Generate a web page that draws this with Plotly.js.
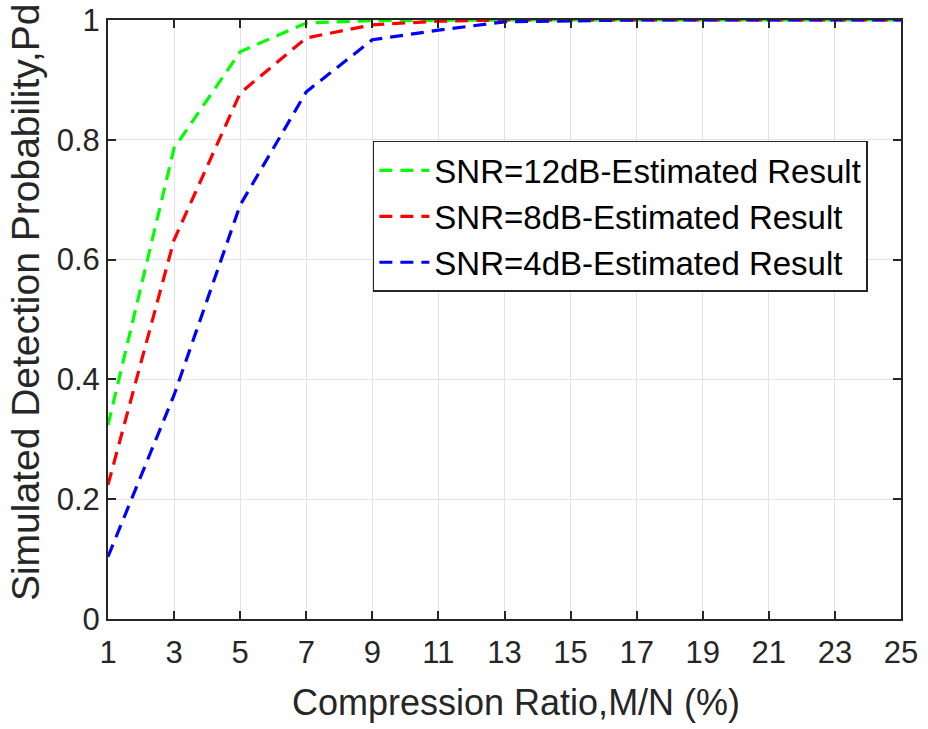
<!DOCTYPE html>
<html>
<head>
<meta charset="utf-8">
<script src="https://cdn.plot.ly/plotly-3.0.1.min.js"></script>
<style>html,body{margin:0;padding:0;background:#fff;}#chart{width:928px;height:729px;}</style>
</head>
<body>
<div id="chart"></div>
<script>
const ratio = [1, 3, 5, 7, 9, 11, 13, 15, 17, 19, 21, 23, 25];
const pd12 = [0.324, 0.786, 0.947, 0.995, 0.999, 1, 1, 1, 1, 1, 1, 1, 1];
const pd8  = [0.224, 0.633, 0.878, 0.970, 0.992, 0.998, 1, 1, 1, 1, 1, 1, 1];
const pd4  = [0.104, 0.374, 0.691, 0.880, 0.967, 0.983, 0.997, 0.999, 1, 1, 1, 1, 1];
const names = ['SNR=12dB-Estimated Result', 'SNR=8dB-Estimated Result', 'SNR=4dB-Estimated Result'];
const colors = ['#00ff00', '#ff0000', '#0000ff'];
const xticks = [1, 3, 5, 7, 9, 11, 13, 15, 17, 19, 21, 23, 25];
const yticks = [0, 0.2, 0.4, 0.6, 0.8, 1];
const yticklabels = ['0', '0.2', '0.4', '0.6', '0.8', '1'];
const xTitle = 'Compression Ratio,M/N (%)';
const yTitle = 'Simulated Detection Probability,Pd';

const FONT = 'Liberation Sans, Arial, sans-serif';
const series = [pd12, pd8, pd4];
const traces = series.map((ys, i) => ({
  x: ratio, y: ys, type: 'scatter', mode: 'lines', name: names[i],
  line: {color: colors[i], width: 3.2, dash: '13px,8px'}
}));

const axisCommon = {
  showline: true, linecolor: '#262626', linewidth: 2, mirror: 'ticks',
  ticks: 'inside', ticklen: 8, tickwidth: 2, tickcolor: '#262626',
  showgrid: true, gridcolor: '#e3e3e3', gridwidth: 1, zeroline: false,
  tickfont: {family: FONT, size: 31, color: '#262626'}
};

const layout = {
  width: 928, height: 729,
  margin: {l: 108, r: 27, t: 20, b: 110},
  paper_bgcolor: '#ffffff', plot_bgcolor: '#ffffff',
  showlegend: true,
  xaxis: Object.assign({}, axisCommon, {
    range: [1, 25], tickvals: xticks, ticktext: xticks.map(String),
    ticklabelstandoff: 5
  }),
  yaxis: Object.assign({}, axisCommon, {
    range: [0, 1], tickvals: yticks, ticktext: yticklabels
  }),
  annotations: [
    {text: xTitle, xref: 'paper', yref: 'paper', x: 0.5145, y: -0.140,
     xanchor: 'center', yanchor: 'middle', showarrow: false,
     font: {family: FONT, size: 36, color: '#262626'}},
    {text: yTitle, xref: 'paper', yref: 'paper', x: -0.1047, y: 0.529,
     xanchor: 'center', yanchor: 'middle', showarrow: false, textangle: -90,
     font: {family: FONT, size: 39, color: '#262626'}}
  ],
  legend: {
    x: 0.334, y: 0.798, xanchor: 'left', yanchor: 'top',
    bgcolor: '#ffffff', bordercolor: '#262626', borderwidth: 1.5,
    font: {family: FONT, size: 33, color: '#000000'},
    tracegroupgap: 0, itemwidth: 50
  }
};

Plotly.newPlot('chart', traces, layout, {displayModeBar: false, staticPlot: true});
</script>
</body>
</html>
